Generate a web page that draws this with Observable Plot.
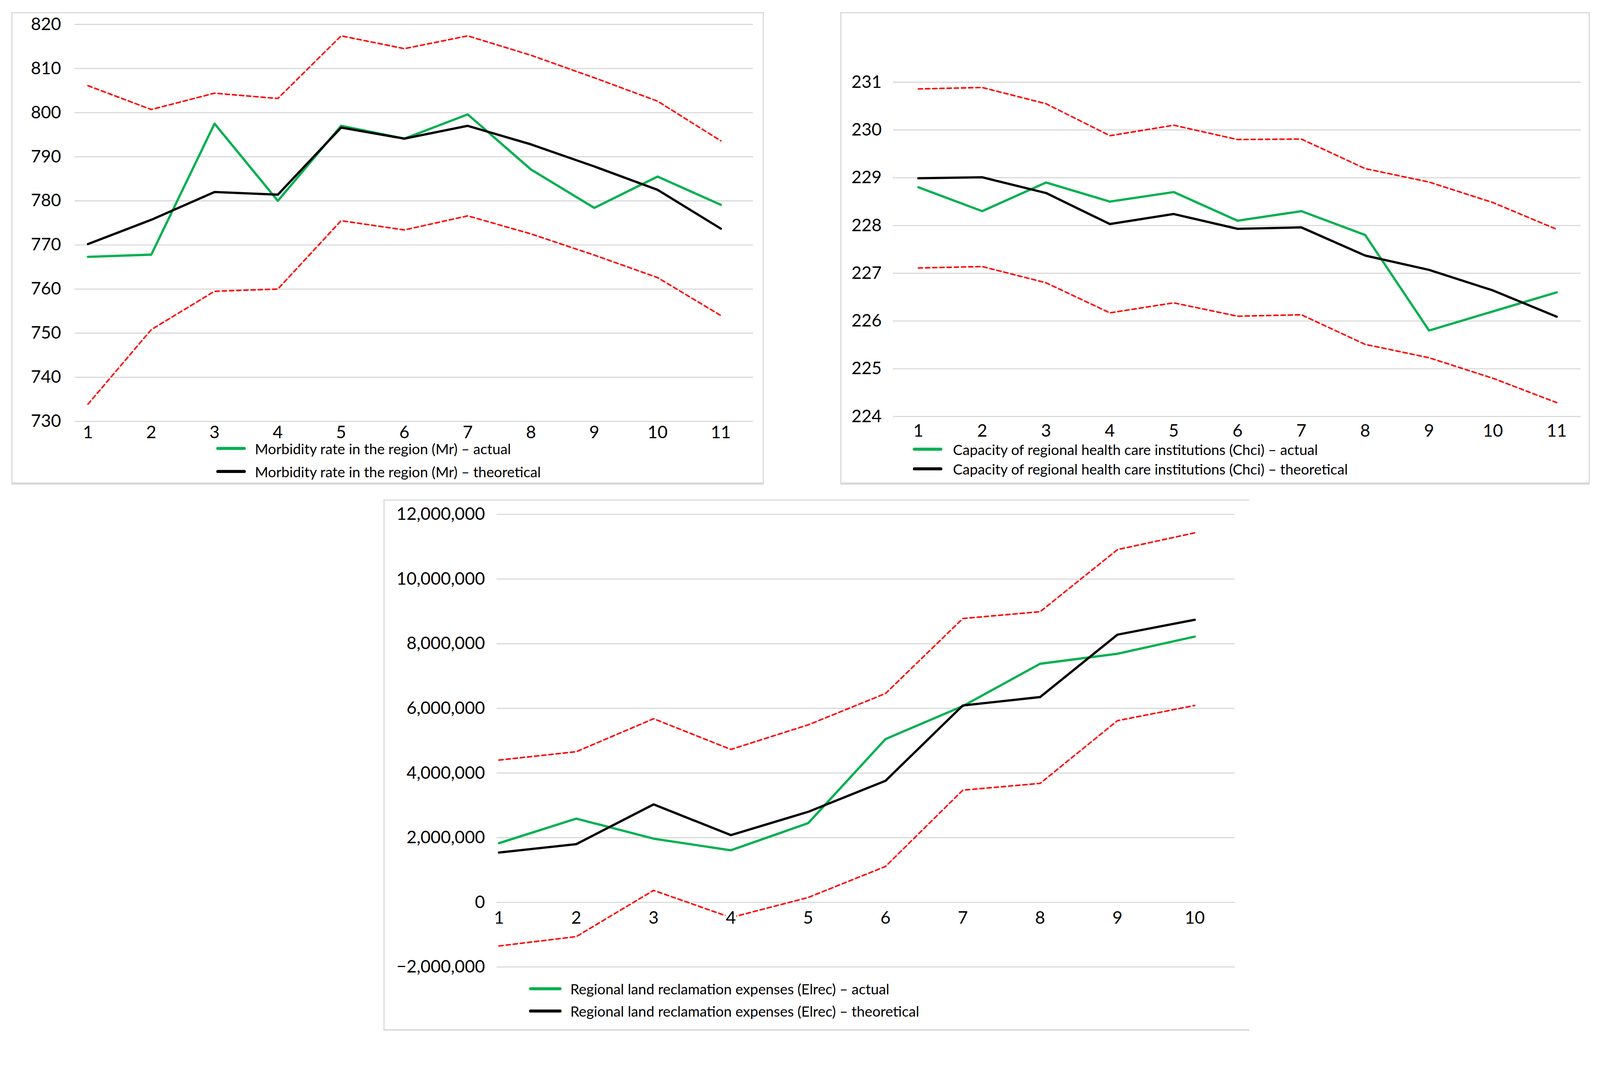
<!DOCTYPE html>
<html><head><meta charset="utf-8">
<script src="https://cdn.jsdelivr.net/npm/d3@7"></script>
<script src="https://cdn.jsdelivr.net/npm/@observablehq/plot@0.6"></script>
<style>
html,body{margin:0;padding:0;background:#fff;overflow:hidden;}
#page{position:absolute;left:0;top:0;width:4231px;height:2755px;overflow:hidden;font-family:Lato,"Open Sans",sans-serif;background:#fff;transform-origin:0 0;}
.box{position:absolute;border:3px solid #d9d9d9;border-bottom-width:6px;box-sizing:border-box;}
.chart{position:absolute;}
.leg{position:absolute;display:flex;align-items:center;font-size:38px;color:#000;white-space:nowrap;line-height:1;transform:translateY(-50%);}
.leg .sw{height:8px;border-radius:4px;}
</style></head><body><div id="page"></div>
<script>
// ---------- Data ----------
const mrPeriods = [1, 2, 3, 4, 5, 6, 7, 8, 9, 10, 11];
const mrActual = [767.3, 767.8, 797.5, 780.0, 797.0, 794.1, 799.6, 787.1, 778.4, 785.5, 779.1];
const mrTheoretical = [770.2, 775.7, 782.0, 781.4, 796.6, 794.1, 797.0, 792.8, 787.8, 782.5, 773.7];
const mrUpper = [806.1, 800.7, 804.4, 803.2, 817.4, 814.5, 817.4, 813.0, 807.9, 802.6, 793.6];
const mrLower = [733.9, 750.8, 759.5, 760.0, 775.5, 773.4, 776.6, 772.5, 767.7, 762.6, 754.0];
const mrTicks = [730, 740, 750, 760, 770, 780, 790, 800, 810, 820];
const mrLegend = ["Morbidity rate in the region (Mr) – actual", "Morbidity rate in the region (Mr) – theoretical"];

const chciPeriods = [1, 2, 3, 4, 5, 6, 7, 8, 9, 10, 11];
const chciActual = [228.8, 228.3, 228.9, 228.5, 228.7, 228.1, 228.3, 227.8, 225.8, 226.2, 226.6];
const chciTheoretical = [228.99, 229.01, 228.68, 228.03, 228.24, 227.93, 227.96, 227.37, 227.07, 226.64, 226.09];
const chciUpper = [230.86, 230.89, 230.55, 229.88, 230.10, 229.80, 229.81, 229.19, 228.91, 228.48, 227.92];
const chciLower = [227.11, 227.14, 226.80, 226.17, 226.38, 226.10, 226.13, 225.51, 225.23, 224.80, 224.29];
const chciTicks = [224, 225, 226, 227, 228, 229, 230, 231];
const chciLegend = ["Capacity of regional health care institutions (Chci) – actual", "Capacity of regional health care institutions (Chci) – theoretical"];

const elrecPeriods = [1, 2, 3, 4, 5, 6, 7, 8, 9, 10];
const elrecActual = [1830000, 2590000, 1970000, 1610000, 2450000, 5050000, 6070000, 7380000, 7690000, 8220000];
const elrecTheoretical = [1540000, 1800000, 3030000, 2080000, 2800000, 3760000, 6090000, 6350000, 8280000, 8740000];
const elrecUpper = [4400000, 4660000, 5680000, 4730000, 5490000, 6460000, 8780000, 8990000, 10910000, 11430000];
const elrecLower = [-1350000, -1060000, 370000, -470000, 150000, 1110000, 3470000, 3680000, 5620000, 6090000];
const elrecTicks = [-2000000, 0, 2000000, 4000000, 6000000, 8000000, 10000000, 12000000];
const elrecLegend = ["Regional land reclamation expenses (Elrec) – actual", "Regional land reclamation expenses (Elrec) – theoretical"];

const GREEN = "#00b050", BLACK = "#000000", RED = "#ff0000", GRID = "#d9d9d9";

// ---------- Fit page to the window ----------
const page = document.getElementById("page");
function fit() {
  const s = Math.min(window.innerWidth / 4231, window.innerHeight / 2755);
  page.style.transform = "scale(" + s + ")";
}
fit();
window.addEventListener("resize", fit);

// ---------- Helpers ----------
const rows = (periods, vals) => periods.map((p, i) => ({period: p, value: vals[i]}));

function addBox(left, top, width, height, extra) {
  const b = document.createElement("div");
  b.className = "box";
  Object.assign(b.style, {left: left + "px", top: top + "px", width: width + "px", height: height + "px"}, extra || {});
  page.appendChild(b);
}

function addLegend(left, cy, swW, gap, color, text) {
  const d = document.createElement("div");
  d.className = "leg";
  d.style.left = left + "px";
  d.style.top = cy + "px";
  const sw = document.createElement("div");
  sw.className = "sw";
  sw.style.width = swW + "px";
  sw.style.background = color;
  sw.style.marginRight = gap + "px";
  const t = document.createElement("span");
  t.textContent = text;
  d.appendChild(sw); d.appendChild(t);
  page.appendChild(d);
}

function makeChart(c) {
  const marks = [
    Plot.ruleY(c.ticks, {stroke: GRID, strokeWidth: 3}),
    Plot.line(rows(c.periods, c.upper), {x: "period", y: "value", stroke: RED, strokeWidth: 4, strokeDasharray: "11,8"}),
    Plot.line(rows(c.periods, c.lower), {x: "period", y: "value", stroke: RED, strokeWidth: 4, strokeDasharray: "11,8"}),
    Plot.line(rows(c.periods, c.actual), {x: "period", y: "value", stroke: GREEN, strokeWidth: 6, strokeLinejoin: "round", strokeLinecap: "round"}),
    Plot.line(rows(c.periods, c.theoretical), {x: "period", y: "value", stroke: BLACK, strokeWidth: 6, strokeLinejoin: "round", strokeLinecap: "round"}),
    Plot.axisY({ticks: c.ticks, tickSize: 0, tickPadding: c.yPad, tickFormat: c.yFormat, fontSize: 46, label: null})
  ];
  if (c.xAtZero) {
    marks.push(Plot.text(c.periods, {x: d => d, y: d => 0, text: d => String(d), dy: c.xPad, lineAnchor: "top", fontSize: 46, fill: BLACK, stroke: "white", strokeWidth: 14}));
    marks.push(Plot.axisX({ticks: [], tickSize: 0, label: null}));
  } else {
    marks.push(Plot.axisX({ticks: c.periods, tickSize: 0, tickPadding: c.xPad, fontSize: 46, label: null, tickFormat: d => String(d)}));
  }
  const p = Plot.plot({
    width: c.width, height: c.height,
    marginLeft: c.ml, marginRight: c.mr, marginTop: c.mt, marginBottom: c.mb,
    x: {domain: c.xDomain},
    y: {domain: c.yDomain},
    style: {fontFamily: "Lato, 'Open Sans', sans-serif", color: "#000", background: "transparent", overflow: "visible"},
    marks
  });
  p.classList.add("chart");
  p.style.left = c.left + "px";
  p.style.top = c.top + "px";
  page.appendChild(p);
}

// ---------- Panel boxes ----------
addBox(30, 32, 1990, 1250);
addBox(2222, 32, 1982, 1250);
addBox(1014, 1321, 2290, 1405, {borderRightWidth: "0px", borderBottomWidth: "4px"});

// ---------- Charts ----------
makeChart({
  left: 0, top: 0, width: 2030, height: 1200,
  ml: 197, mr: 39, mt: 64, mb: 86,
  xDomain: [0.79, 11.51], yDomain: [730, 820],
  periods: mrPeriods, actual: mrActual, theoretical: mrTheoretical, upper: mrUpper, lower: mrLower,
  ticks: mrTicks, yPad: 36, xPad: 12, yFormat: d => String(d)
});

makeChart({
  left: 2150, top: 0, width: 2081, height: 1200,
  ml: 211, mr: 51, mt: 217, mb: 99,
  xDomain: [0.603, 11.379], yDomain: [224, 231],
  periods: chciPeriods, actual: chciActual, theoretical: chciTheoretical, upper: chciUpper, lower: chciLower,
  ticks: chciTicks, yPad: 30, xPad: 21, yFormat: d => String(d)
});

makeChart({
  left: 1000, top: 1300, width: 2300, height: 1300,
  ml: 313, mr: 35, mt: 60, mb: 43,
  xDomain: [0.971, 10.519], yDomain: [-2000000, 12000000],
  periods: elrecPeriods, actual: elrecActual, theoretical: elrecTheoretical, upper: elrecUpper, lower: elrecLower,
  ticks: elrecTicks, yPad: 31, xPad: 24, yFormat: d3.format(","), xAtZero: true
});

// ---------- Legends ----------
addLegend(572, 1186, 78, 24, GREEN, mrLegend[0]);
addLegend(572, 1247, 78, 24, BLACK, mrLegend[1]);
addLegend(2414, 1188, 78, 28, GREEN, chciLegend[0]);
addLegend(2414, 1240, 78, 28, BLACK, chciLegend[1]);
addLegend(1399, 2615, 86, 23, GREEN, elrecLegend[0]);
addLegend(1399, 2674, 86, 23, BLACK, elrecLegend[1]);
</script>
</body></html>
